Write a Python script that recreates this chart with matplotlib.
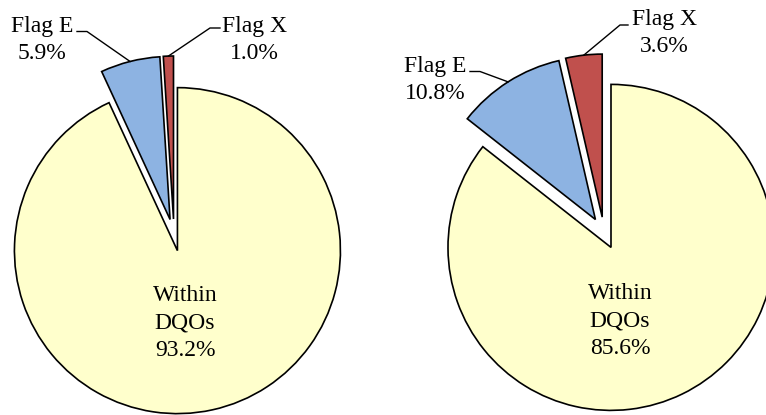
import matplotlib.pyplot as plt
import numpy as np

plt.rcParams['font.family'] = ['Liberation Serif', 'DejaVu Serif']

W, H = 766, 415

categories = ['Within\nDQOs', 'Flag E', 'Flag X']
left_values = [93.2, 5.9, 1.0]
right_values = [85.6, 10.8, 3.6]
colors = ['#FFFFCC', '#8DB3E2', '#C0504D']

fig = plt.figure(figsize=(W / 100, H / 100), dpi=100)
ax = fig.add_axes([0, 0, 1, 1])


def py(y):
    # pixel rows counted from the top
    return H - y


def draw_pie(values, center, labels_pos, elbows):
    # explode is in data units here (pixels)
    wedges, _ = ax.pie(values, colors=colors, startangle=90, counterclock=False,
                       explode=[16] * 3, radius=163, center=(center[0], py(center[1])),
                       wedgeprops=dict(edgecolor='black', linewidth=1.2))
    for i, (w, name, v) in enumerate(zip(wedges, categories, values)):
        x, y = labels_pos[i]
        ax.text(x, py(y), f'{name}\n{v:.1f}%', ha='center', va='center',
                fontsize=17, linespacing=1.4)
        if i == 0:
            continue
        # leader from the label to the middle of the wedge arc
        mid = np.deg2rad((w.theta1 + w.theta2) / 2)
        ex = w.center[0] + w.r * np.cos(mid)
        ey = w.center[1] + w.r * np.sin(mid)
        (x0, y0), (x1, y1) = elbows[i - 1]
        ax.plot([x0, x1, ex], [py(y0), py(y1), ey], color='black', lw=1.0)


draw_pie(left_values, (174, 235),
         [(185, 323), (42, 40), (254, 40)],
         [((77, 31.5), (87, 31.5)), ((220, 28), (210, 28))])
draw_pie(right_values, (604, 233),
         [(620, 321), (435, 80), (664, 33)],
         [((470, 71.5), (480, 71.5)), ((628, 25), (620, 25))])

ax.set_xlim(0, W)
ax.set_ylim(0, H)
ax.set_aspect('equal')
ax.axis('off')

fig.savefig('out.png', dpi=100)
